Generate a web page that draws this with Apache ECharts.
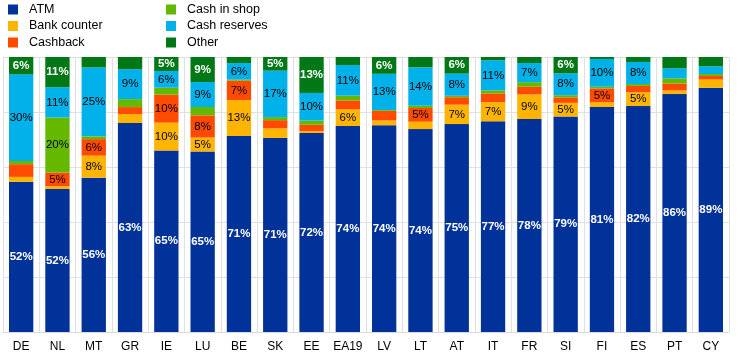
<!DOCTYPE html>
<html>
<head>
<meta charset="utf-8">
<script src="https://cdn.jsdelivr.net/npm/echarts@6/dist/echarts.min.js"></script>
<style>html,body{margin:0;padding:0;background:#fff}#c{width:744px;height:361px}</style>
</head>
<body>
<div id="c"></div>
<script>
var categories = ['DE','NL','MT','GR','IE','LU','BE','SK','EE','EA19','LV','LT','AT','IT','FR','SI','FI','ES','PT','CY'];
var atm          = [52,52,56,63,65,65,71,71,72,74,74,74,75,77,78,79,81,82,86,89];
var bankCounter  = [1.7,1,8,2.7,10,5,13,3.5,0.7,6,1.7,2.7,7,7,9,5,1.7,5,1.3,3];
var cashback     = [4.4,5,6,2.1,10,8,7,3,2.3,3.2,3.4,5,2.7,3.2,2.8,2,5,2.3,2.5,1.3];
var cashInShop   = [1.1,20,1,2.4,2.5,3,0.4,1.1,1.5,1.7,0.3,0.8,0.5,1.1,1.7,0.8,0.6,0.7,1.9,0.7];
var cashReserves = [30,11,25,9,6,9,6,17,10,11,13,14,8,11,7,8,10,8,3.6,2.8];
var other        = [6,11,3.8,3.7,5,9,2.2,5,13,2.9,6,3.8,6,1.2,2.2,6,0.7,1.8,4.1,3.4];

var seriesDefs = [
  {name:'ATM', raw:atm, color:'#003299', labelColor:'#fff', bold:true},
  {name:'Bank counter', raw:bankCounter, color:'#FFB400', labelColor:'#000', bold:false},
  {name:'Cashback', raw:cashback, color:'#FF4B00', labelColor:'#000', bold:false},
  {name:'Cash in shop', raw:cashInShop, color:'#65B800', labelColor:'#000', bold:false},
  {name:'Cash reserves', raw:cashReserves, color:'#00B1EA', labelColor:'#000', bold:false},
  {name:'Other', raw:other, color:'#007816', labelColor:'#fff', bold:true}
];
var totals = categories.map(function(_, i){
  return seriesDefs.reduce(function(s, d){ return s + d.raw[i]; }, 0);
});
var FONT = 'Liberation Sans, Arial, sans-serif';
var series = seriesDefs.map(function(d){
  return {
    name: d.name, type: 'bar', stack: 'total', barCategoryGap: '33%',
    itemStyle: {color: d.color},
    data: d.raw.map(function(v, i){ return v / totals[i] * 100; }),
    label: {
      show: true, position: 'inside', color: d.labelColor,
      fontWeight: d.bold ? 'bold' : 'normal', fontSize: 11.5, fontFamily: FONT,
      formatter: function(p){ var v = d.raw[p.dataIndex]; return v >= 4.5 ? Math.round(v) + '%' : ''; }
    }
  };
});
var legendCommon = {
  orient: 'vertical', top: 3, itemWidth: 10, itemHeight: 10, itemGap: 3.5,
  icon: 'rect', padding: 0,
  textStyle: {fontSize: 12.5, fontFamily: FONT, color: '#000', padding: [0,0,0,6]}
};
var chart = echarts.init(document.getElementById('c'));
chart.setOption({
  animation: false,
  legend: [
    Object.assign({}, legendCommon, {left: 8, data: ['ATM','Bank counter','Cashback']}),
    Object.assign({}, legendCommon, {left: 166, data: ['Cash in shop','Cash reserves','Other']})
  ],
  grid: {left: 3, right: 15, top: 57, bottom: 29},
  xAxis: {
    type: 'category', data: categories,
    axisLine: {lineStyle: {color: '#d9d9d9', width: 1}},
    axisTick: {show: false},
    axisLabel: {color: '#000', fontSize: 12, fontFamily: FONT, margin: 9, interval: 0},
    splitLine: {show: true, interval: 0, lineStyle: {color: '#e0e0e0', width: 1}}
  },
  yAxis: {
    type: 'value', min: 0, max: 100, interval: 20,
    axisLabel: {show: false}, axisLine: {show: false}, axisTick: {show: false},
    splitLine: {show: true, lineStyle: {color: '#e0e0e0', width: 1}}
  },
  series: series
});
</script>
</body>
</html>
